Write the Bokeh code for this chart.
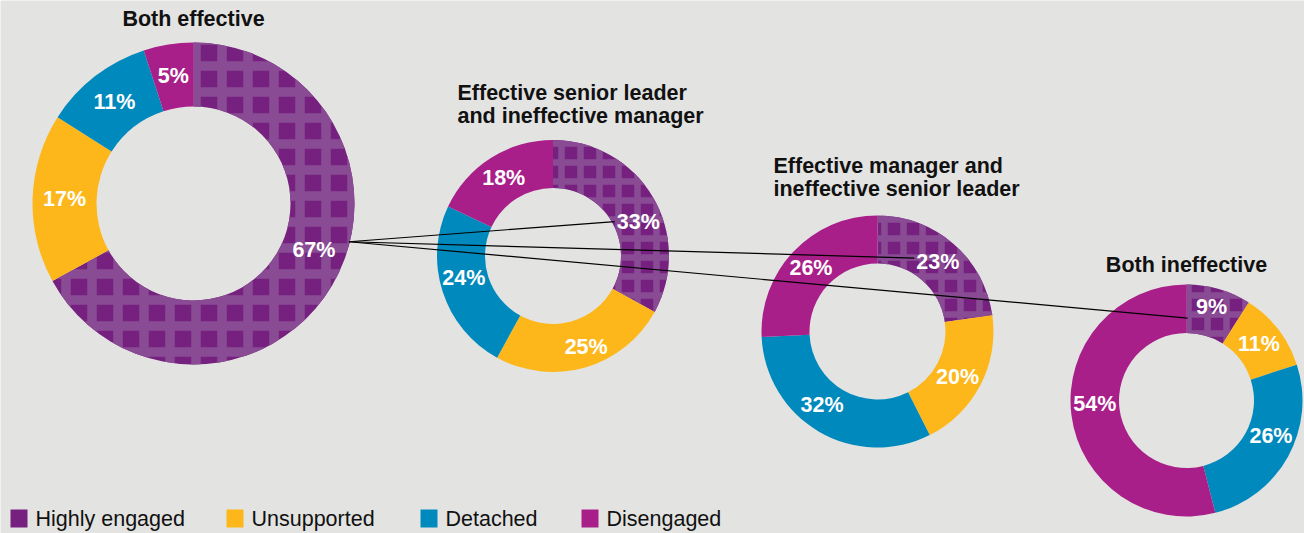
import math
from bokeh.plotting import figure
from bokeh.models import Range1d
from bokeh.core.properties import value
from bokeh.embed import file_html
from bokeh.resources import INLINE

# ---------------- data ----------------
categories = ["Highly engaged", "Unsupported", "Detached", "Disengaged"]
chart_titles = [
    ["Both effective"],
    ["Effective senior leader", "and ineffective manager"],
    ["Effective manager and", "ineffective senior leader"],
    ["Both ineffective"],
]
highly_engaged = [67, 33, 23, 9]
unsupported = [17, 25, 20, 11]
detached = [11, 24, 32, 26]
disengaged = [5, 18, 26, 54]

# ---------------- styles ----------------
seg_colors = ["#76207f", "#fdb71b", "#0089bc", "#a91f8a"]
hatch_light = "#894b93"
BG = "#e3e3e1"
FONT = value("Liberation Sans")

# ---------------- layout (image pixel coords) ----------------
W, H = 1304, 533
IMG_H = 533


def Y(y):
    return IMG_H - y


centers = [(193, 203), (552.5, 255.5), (877, 331), (1186, 400)]
outer_r = [161, 116, 116, 116]
inner_r = [97, 68, 68, 67.5]
hatch_scale = [26, 19, 19, 19]
hatch_weight = [9.5, 6.5, 6.5, 6.5]
label_angle_override = {(0, 0): -21.0, (1, 0): 22.0, (1, 1): -70.0, (1, 2): 194.0,
                        (2, 2): -127.0, (2, 1): -29.5, (3, 2): -23.0, (3, 3): -178.0,
                        (3, 0): 75.0}
label_r_extra = {(1, 1): 5, (3, 0): 5}
title_anchor = [(193, 18, "center"), (457, 92, "left"), (773, 165, "left"), (1186, 264, "center")]
title_line_gap = 23.5
connector_start_offset = (35, -8)
connector_end_offset = [(-23.5, 0), (-23.5, -4), (-24, 11)]
legend_x = [10, 226, 420, 581]
legend_y = 518

p = figure(width=W, height=H, output_backend="svg", toolbar_location=None,
           x_range=Range1d(0, W), y_range=Range1d(IMG_H - H, IMG_H),
           min_border=0)
p.axis.visible = False
p.grid.visible = False
p.outline_line_color = None
p.background_fill_color = BG
p.border_fill_color = BG

series = [highly_engaged, unsupported, detached, disengaged]
label_pos = {}

for i in range(4):
    vals = [s[i] for s in series]
    total = float(sum(vals))
    cx, cy = centers[i]
    cum = 0.0
    for j, v in enumerate(vals):
        f0 = cum / total
        f1 = (cum + v) / total
        cum += v
        start = math.pi / 2 - 2 * math.pi * f1
        end = math.pi / 2 - 2 * math.pi * f0
        kw = dict(x=[cx], y=[Y(cy)], inner_radius=inner_r[i], outer_radius=outer_r[i],
                  start_angle=[start], end_angle=[end], fill_color=seg_colors[j],
                  line_color=None)
        if j == 0:
            kw.update(hatch_pattern="+", hatch_color=hatch_light,
                      hatch_scale=hatch_scale[i], hatch_weight=hatch_weight[i])
        p.annular_wedge(**kw)
        mid = (start + end) / 2
        if (i, j) in label_angle_override:
            mid = math.radians(label_angle_override[(i, j)])
        rl = (inner_r[i] + outer_r[i]) / 2 + label_r_extra.get((i, j), 0)
        label_pos[(i, j)] = (cx + rl * math.cos(mid), cy - rl * math.sin(mid), v)

# connector lines from first highly-engaged label to the others
sx = label_pos[(0, 0)][0] + connector_start_offset[0]
sy = label_pos[(0, 0)][1] + connector_start_offset[1]
x0s, y0s, x1s, y1s = [], [], [], []
for k, i in enumerate([1, 2, 3]):
    ex = label_pos[(i, 0)][0] + connector_end_offset[k][0]
    ey = label_pos[(i, 0)][1] + connector_end_offset[k][1]
    x0s.append(sx); y0s.append(Y(sy)); x1s.append(ex); y1s.append(Y(ey))
p.segment(x0=x0s, y0=y0s, x1=x1s, y1=y1s, line_color="#000000", line_width=1.2)

# percentage labels
lx = [v[0] for v in label_pos.values()]
ly = [Y(v[1]) for v in label_pos.values()]
lt = ["%d%%" % v[2] for v in label_pos.values()]
p.text(x=lx, y=ly, text=lt, text_color="white", text_font=FONT, text_font_style="bold",
       text_font_size="21.5px", text_align="center", text_baseline="middle")

# titles
for i, lines in enumerate(chart_titles):
    ax, ay, al = title_anchor[i]
    for k, line in enumerate(lines):
        p.text(x=[ax], y=[Y(ay + k * title_line_gap)], text=[line], text_color="#111111",
               text_font=FONT, text_font_style="bold", text_font_size="21.5px",
               text_align=al, text_baseline="middle")

# legend
for k, cat in enumerate(categories):
    p.rect(x=[legend_x[k] + 8.5], y=[Y(legend_y)], width=17, height=18,
           width_units="screen", height_units="screen", fill_color=seg_colors[k], line_color=None)
    p.text(x=[legend_x[k] + 25], y=[Y(legend_y)], text=[cat], text_color="#111111",
           text_font=FONT, text_font_size="21.5px", text_align="left", text_baseline="middle")

open("out.html", "w").write(file_html(p, INLINE))
